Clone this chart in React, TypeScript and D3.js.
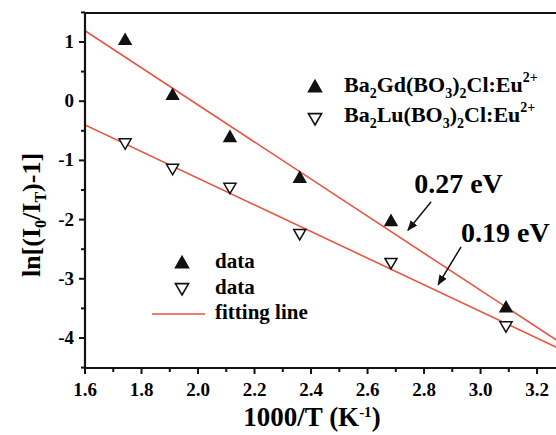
import React from "react";
import * as d3 from "d3";

const W = 556;
const H = 435;
const xTicks = [1.6, 1.8, 2.0, 2.2, 2.4, 2.6, 2.8, 3.0, 3.2];
const xMinor = [1.7, 1.9, 2.1, 2.3, 2.5, 2.7, 2.9, 3.1];
const yTicks = [1, 0, -1, -2, -3, -4];
const yMinor = [1.5, 0.5, -0.5, -1.5, -2.5, -3.5, -4.5];

const dataX = [1.742, 1.91, 2.113, 2.36, 2.683, 3.09];
const gdY = [1.05, 0.12, -0.59, -1.28, -2.01, -3.47];
const luY = [-0.72, -1.15, -1.47, -2.25, -2.74, -3.81];

const fitX = [1.6, 3.27];
const fitGd = [1.19, -4.04];
const fitLu = [-0.4, -4.16];

const RED = "#e8553f";
const FONT = "'Liberation Serif', 'Times New Roman', serif";

export default function App() {
  const left = 85, top = 13, bottom = 368, right = 556;
  const x = d3.scaleLinear().domain([1.6, 3.267]).range([left, right]);
  const y = d3.scaleLinear().domain([-4.507, 1.49]).range([bottom, top]);
  const line = d3.line<number>().x((_, i) => x(fitX[i])).y((d) => y(d));

  const up = (cx: number, cy: number, s: number) =>
    `M${cx},${cy - s * 0.55}L${cx + s * 0.6},${cy + s * 0.5}L${cx - s * 0.6},${cy + s * 0.5}Z`;
  const down = (cx: number, cy: number, s: number) =>
    `M${cx},${cy + s * 0.5}L${cx + s * 0.55},${cy - s * 0.45}L${cx - s * 0.55},${cy - s * 0.45}Z`;

  const arrows = [
    { x1: 2.825, y1: -1.7, x2: 2.743, y2: -2.18 },
    { x1: 2.931, y1: -2.46, x2: 2.85, y2: -3.1 },
  ];

  const formula = (name: string) => (
    <>
      <tspan>Ba</tspan>
      <tspan fontSize={14} dy={6}>2</tspan>
      <tspan dy={-6}>{name}(BO</tspan>
      <tspan fontSize={14} dy={6}>3</tspan>
      <tspan dy={-6}>)</tspan>
      <tspan fontSize={14} dy={6}>2</tspan>
      <tspan dy={-6}>Cl:Eu</tspan>
      <tspan fontSize={14} dy={-10}>2+</tspan>
    </>
  );

  return (
    <svg width={W} height={H} style={{ position: "absolute", left: 0, top: 0, background: "#fff" }} fontFamily={FONT} fontWeight="bold">
      <defs>
        <clipPath id="plot">
          <rect x={left} y={top} width={right - left} height={bottom - top} />
        </clipPath>
        <marker id="ah" viewBox="0 0 10 10" refX="9" refY="5" markerWidth="7" markerHeight="7" orient="auto">
          <path d="M0,1L10,5L0,9Z" fill="#111" />
        </marker>
      </defs>
      <g clipPath="url(#plot)">
        <path d={line(fitGd) || ""} fill="none" stroke={RED} strokeWidth={1.6} />
        <path d={line(fitLu) || ""} fill="none" stroke={RED} strokeWidth={1.6} />
      </g>
      {dataX.map((d, i) => (
        <path key={"g" + i} d={up(x(d), y(gdY[i]), 12)} fill="#111" />
      ))}
      {dataX.map((d, i) => (
        <path key={"l" + i} d={down(x(d), y(luY[i]), 11)} fill="#fff" stroke="#111" strokeWidth={1.5} />
      ))}
      {/* frame */}
      <line x1={left} x2={right} y1={top} y2={top} stroke="#111" strokeWidth={2.2} />
      <line x1={left} x2={left} y1={top - 1} y2={bottom + 1} stroke="#111" strokeWidth={2.2} />
      <line x1={left - 1} x2={right} y1={bottom} y2={bottom} stroke="#111" strokeWidth={2.2} />
      {xTicks.map((t) => (
        <g key={"xt" + t}>
          <line x1={x(t)} x2={x(t)} y1={bottom} y2={bottom + 6} stroke="#111" strokeWidth={2} />
          <text x={x(t)} y={bottom + 28} textAnchor="middle" fontSize={19}>{t.toFixed(1)}</text>
        </g>
      ))}
      {xMinor.map((t) => (
        <line key={"xm" + t} x1={x(t)} x2={x(t)} y1={bottom} y2={bottom + 4} stroke="#111" strokeWidth={2} />
      ))}
      {yTicks.map((t) => (
        <g key={"yt" + t}>
          <line x1={left - 6} x2={left} y1={y(t)} y2={y(t)} stroke="#111" strokeWidth={2} />
          <text x={left - 11} y={y(t) + 6} textAnchor="end" fontSize={19}>{t}</text>
        </g>
      ))}
      {yMinor.map((t) => (
        <line key={"ym" + t} x1={left - 4} x2={left} y1={y(t)} y2={y(t)} stroke="#111" strokeWidth={2} />
      ))}
      {/* axis titles */}
      <text x={312} y={426} textAnchor="middle" fontSize={27}>
        1000/T (K<tspan fontSize={15} dy={-9}>-1</tspan><tspan dy={9}>)</tspan>
      </text>
      <text transform={`translate(40,215) rotate(-90)`} textAnchor="middle" fontSize={26}>
        ln[(I<tspan fontSize={16} dy={6}>0</tspan><tspan dy={-6}>/I</tspan><tspan fontSize={16} dy={6}>T</tspan><tspan dy={-6}>)-1]</tspan>
      </text>
      {/* upper legend */}
      <path d={up(315, 86, 13)} fill="#111" />
      <text x={344} y={92} fontSize={22}>{formula("Gd")}</text>
      <path d={down(315, 119, 12)} fill="#fff" stroke="#111" strokeWidth={1.6} />
      <text x={344} y={122} fontSize={22}>{formula("Lu")}</text>
      {/* lower legend */}
      <path d={up(182, 262, 13)} fill="#111" />
      <text x={215} y={268} fontSize={21}>data</text>
      <path d={down(182, 289, 12)} fill="#fff" stroke="#111" strokeWidth={1.6} />
      <text x={215} y={294} fontSize={21}>data</text>
      <line x1={152} x2={205} y1={314} y2={314} stroke={RED} strokeWidth={1.6} />
      <text x={215} y={319} fontSize={21}>fitting line</text>
      {/* annotations */}
      <text x={x(2.765)} y={y(-1.55)} fontSize={28}>0.27 eV</text>
      <text x={x(2.931)} y={y(-2.38)} fontSize={28}>0.19 eV</text>
      {arrows.map((a, i) => (
        <line key={"a" + i} x1={x(a.x1)} y1={y(a.y1)} x2={x(a.x2)} y2={y(a.y2)} stroke="#111" strokeWidth={1.5} markerEnd="url(#ah)" />
      ))}
    </svg>
  );
}
